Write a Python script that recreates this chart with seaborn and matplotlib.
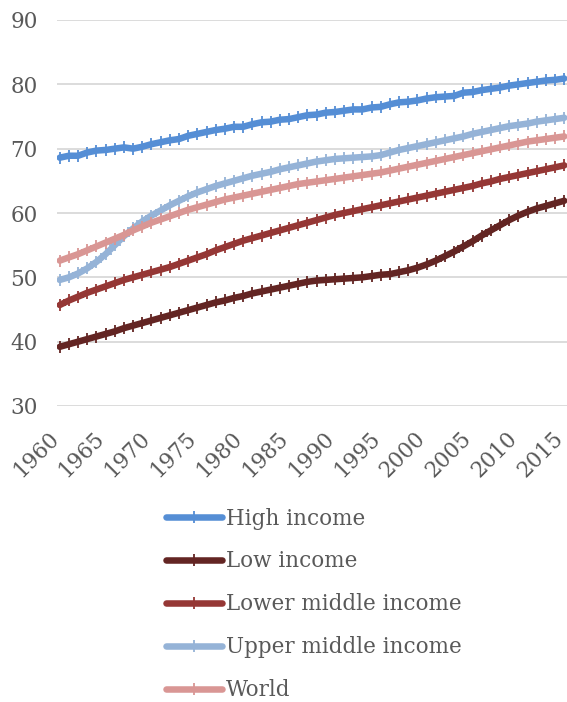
import matplotlib
matplotlib.use("Agg")
import matplotlib.pyplot as plt
import seaborn as sns
import numpy as np

years = list(range(1960, 2016))

high_income = [68.6, 68.9, 68.9, 69.4, 69.7, 69.8, 70.0, 70.2, 70.0, 70.3,
               70.7, 71.0, 71.3, 71.5, 72.0, 72.3, 72.6, 72.9, 73.1, 73.4,
               73.4, 73.8, 74.1, 74.2, 74.5, 74.6, 74.9, 75.2, 75.3, 75.6,
               75.7, 75.9, 76.1, 76.1, 76.4, 76.5, 76.9, 77.2, 77.3, 77.5,
               77.8, 78.0, 78.1, 78.2, 78.7, 78.8, 79.1, 79.3, 79.5, 79.8,
               80.0, 80.2, 80.4, 80.6, 80.7, 80.9]

low_income = [39.2, 39.6, 40.0, 40.4, 40.8, 41.2, 41.6, 42.1, 42.5, 42.9,
              43.3, 43.7, 44.1, 44.5, 44.9, 45.3, 45.7, 46.1, 46.4, 46.8,
              47.1, 47.5, 47.8, 48.1, 48.4, 48.7, 49.0, 49.3, 49.5, 49.6,
              49.7, 49.8, 49.9, 50.0, 50.2, 50.4, 50.5, 50.8, 51.1, 51.5,
              52.0, 52.6, 53.3, 54.0, 54.8, 55.6, 56.5, 57.3, 58.1, 58.9,
              59.6, 60.2, 60.7, 61.1, 61.5, 61.9]

lower_middle = [45.7, 46.4, 47.0, 47.6, 48.1, 48.6, 49.1, 49.6, 50.0, 50.4,
                50.8, 51.2, 51.6, 52.1, 52.6, 53.1, 53.6, 54.2, 54.7, 55.2,
                55.7, 56.1, 56.5, 56.9, 57.3, 57.7, 58.1, 58.5, 58.9, 59.3,
                59.7, 60.0, 60.3, 60.6, 60.9, 61.2, 61.5, 61.8, 62.1, 62.4,
                62.7, 63.0, 63.3, 63.6, 63.9, 64.2, 64.6, 64.9, 65.3, 65.6,
                65.9, 66.2, 66.5, 66.8, 67.1, 67.4]

upper_middle = [49.6, 50.0, 50.6, 51.4, 52.4, 53.6, 55.0, 56.4, 57.6, 58.7,
                59.6, 60.4, 61.2, 61.9, 62.6, 63.2, 63.7, 64.2, 64.6, 65.0,
                65.4, 65.8, 66.1, 66.4, 66.8, 67.1, 67.4, 67.7, 68.0, 68.2,
                68.4, 68.5, 68.6, 68.7, 68.8, 69.0, 69.4, 69.8, 70.1, 70.4,
                70.7, 71.0, 71.3, 71.6, 71.9, 72.3, 72.6, 72.9, 73.2, 73.5,
                73.7, 73.9, 74.2, 74.4, 74.6, 74.8]

world = [52.6, 53.1, 53.6, 54.2, 54.8, 55.4, 56.0, 56.6, 57.3, 57.9,
         58.5, 59.0, 59.5, 60.0, 60.5, 60.9, 61.3, 61.7, 62.1, 62.4,
         62.7, 63.0, 63.3, 63.6, 63.9, 64.2, 64.5, 64.7, 64.9, 65.1,
         65.3, 65.5, 65.7, 65.9, 66.1, 66.3, 66.6, 66.9, 67.2, 67.5,
         67.8, 68.1, 68.4, 68.7, 69.0, 69.3, 69.6, 69.9, 70.2, 70.5,
         70.8, 71.1, 71.3, 71.5, 71.7, 71.9]

series_names = ["High income", "Low income", "Lower middle income",
                "Upper middle income", "World"]
series_values = [high_income, low_income, lower_middle, upper_middle, world]
colors = ["#558ED5", "#632523", "#953735", "#95B3D7", "#D99694"]

y_ticks = [30, 40, 50, 60, 70, 80, 90]
x_ticks = list(range(1960, 2016, 5))

sns.set_theme(style="white")
plt.rcParams['font.family'] = ['DejaVu Serif']
text_color = "#595959"
fs = 15.5

fig = plt.figure(figsize=(5.67, 7.02), dpi=100)
ax = fig.add_axes([57/567, 1 - 406/702, 510/567, 386/702])

for name, vals, c in zip(series_names, series_values, colors):
    sns.lineplot(x=years, y=vals, ax=ax, color=c, linewidth=4.7,
                 marker="+", markersize=9, markeredgewidth=1.3,
                 markeredgecolor=c, label=name, solid_capstyle="round")

ax.set_ylim(30, 90)
ax.set_xlim(1959.7, 2015.3)
ax.set_yticks(y_ticks)
ax.set_xticks(x_ticks)
ax.set_yticklabels([str(v) for v in y_ticks], fontsize=fs, color=text_color)
ax.set_xticklabels([str(v) for v in x_ticks], fontsize=fs, color=text_color,
                   rotation=45, ha="right", va="baseline",
                   rotation_mode="anchor")
ax.tick_params(axis="y", length=0, pad=14)
ax.tick_params(axis="x", length=0, pad=24)
ax.grid(axis="y", color="#D9D9D9", linewidth=1.3)
ax.grid(axis="x", visible=False)
for s in ax.spines.values():
    s.set_visible(False)
ax.set_xlabel("")
ax.set_ylabel("")

ax.legend_.remove()
handles, labels = ax.get_legend_handles_labels()
leg = fig.legend(handles, labels, loc="upper left",
                 bbox_to_anchor=(157/567, 1 - 499/702),
                 frameon=False, fontsize=fs, labelcolor=text_color,
                 handlelength=2.6, handletextpad=0.2, labelspacing=0.97,
                 borderaxespad=0)

fig.savefig("out.png", dpi=100)
